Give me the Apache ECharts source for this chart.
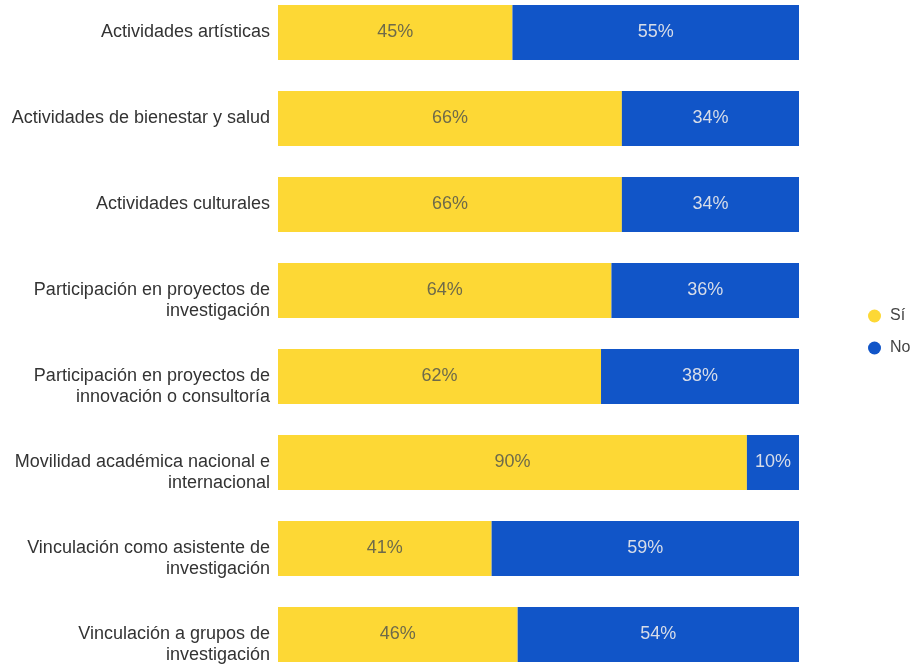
<!DOCTYPE html>
<html>
<head>
<meta charset="utf-8">
<script src="https://cdn.jsdelivr.net/npm/echarts@6/dist/echarts.min.js"></script>
<style>html,body{margin:0;padding:0;background:#fff;}#c{width:917px;height:665px;}</style>
</head>
<body>
<div id="c"></div>
<script>
const categories = [
  "Actividades artísticas",
  "Actividades de bienestar y salud",
  "Actividades culturales",
  "Participación en proyectos de\ninvestigación",
  "Participación en proyectos de\ninnovación o consultoría",
  "Movilidad académica nacional e\ninternacional",
  "Vinculación como asistente de\ninvestigación",
  "Vinculación a grupos de\ninvestigación"
];
const siValues = [45, 66, 66, 64, 62, 90, 41, 46];
const noValues = [55, 34, 34, 36, 38, 10, 59, 54];
const seriesNames = ["Sí", "No"];

const chart = echarts.init(document.getElementById('c'), null, {renderer: 'canvas'});
const font = 'Liberation Sans, Arial, sans-serif';
chart.setOption({
  animation: false,
  textStyle: {fontFamily: font},
  grid: {left: 278, right: 118, top: -10.5, bottom: -12.5, containLabel: false, outerBoundsMode: 'none'},
  legend: {
    orient: 'vertical', left: 863, top: 303,
    icon: 'circle', itemWidth: 13, itemHeight: 13, itemGap: 16,
    textStyle: {fontSize: 16, color: '#444', fontFamily: font, padding: [0, 0, 0, 4]},
    data: seriesNames
  },
  xAxis: {type: 'value', min: 0, max: 100, show: false},
  yAxis: {
    type: 'category', inverse: true, data: categories,
    axisLine: {show: false}, axisTick: {show: false},
    axisLabel: {
      fontSize: 18, color: '#333', margin: 8, lineHeight: 21, fontFamily: font, align: 'right',
      padding: [2, 0, 0, 0],
      formatter: function (v) { return v.indexOf('\n') >= 0 ? '\n' + v : v; }
    }
  },
  series: [
    {
      name: seriesNames[0], type: 'bar', stack: 't', data: siValues,
      barCategoryGap: '36%',
      itemStyle: {color: '#FDD835'},
      label: {show: true, position: 'inside', formatter: '{c}%', fontSize: 18, color: '#6e6a4a', fontFamily: font, padding: [2, 0, 0, 0]}
    },
    {
      name: seriesNames[1], type: 'bar', stack: 't', data: noValues,
      barCategoryGap: '36%',
      itemStyle: {color: '#1155C8'},
      label: {show: true, position: 'inside', formatter: '{c}%', fontSize: 18, color: '#d8dde8', fontFamily: font, padding: [2, 0, 0, 0]}
    }
  ]
});
</script>
</body>
</html>
